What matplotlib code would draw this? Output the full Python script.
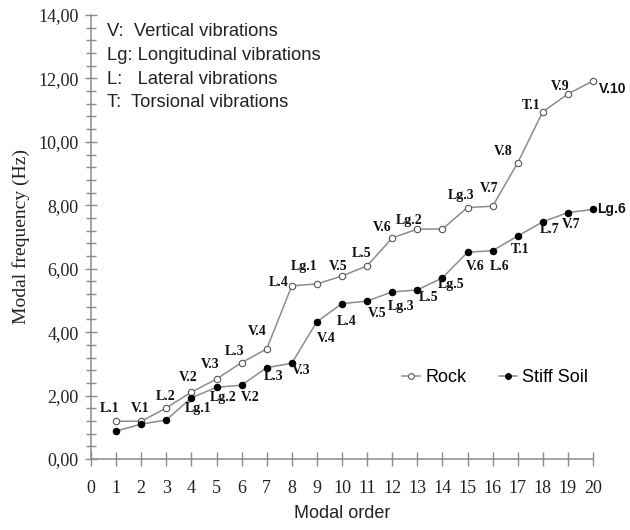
import matplotlib
matplotlib.use("Agg")
import matplotlib.pyplot as plt
from matplotlib.ticker import MultipleLocator, FuncFormatter

# Modal frequencies (Hz) for the first 20 modes
MODES = list(range(1, 21))
ROCK = [1.19, 1.19, 1.61, 2.11, 2.52, 3.04, 3.47, 5.46, 5.52, 5.77,
        6.09, 6.97, 7.25, 7.25, 7.93, 7.97, 9.34, 10.95, 11.51, 11.92]
STIFF_SOIL = [0.88, 1.10, 1.23, 1.93, 2.26, 2.33, 2.88, 3.02, 4.33, 4.90,
              4.98, 5.27, 5.33, 5.71, 6.52, 6.57, 7.03, 7.48, 7.77, 7.87]

ROCK_LABELS = ["L.1", "V.1", "L.2", "V.2", "V.3", "L.3", "V.4", "L.4", "Lg.1", "V.5",
               "L.5", "V.6", "Lg.2", "", "Lg.3", "V.7", "V.8", "T.1", "V.9", "V.10"]
SOIL_LABELS = ["", "", "", "Lg.1", "Lg.2", "V.2", "L.3", "V.3", "V.4", "L.4",
               "V.5", "Lg.3", "L.5", "Lg.5", "V.6", "L.6", "T.1", "L.7", "V.7", "Lg.6"]

# label offsets from each point, in pixels (dx, dy)
ROCK_OFFSETS = [(-6, 13), (-1, 13), (-1, 11), (-3, 15), (-6, 15), (-7, 11), (-9, 17),
                (-13, 3), (-13, 17), (-4, 10), (-5, 12), (-10, 10), (-8, 9), (0, 0),
                (-6, 12), (-3, 18), (-14, 11), (-12, 6), (-8, 7), (20, -8)]
SOIL_OFFSETS = [(0, 0), (0, 0), (0, 0), (7, -11), (7, -10), (9, -12), (7, -9),
                (9, -7), (9, -17), (5, -18), (10, -12), (9, -15), (11, -8), (9, -7),
                (8, -14), (7, -16), (2, -13), (7, -8), (3, -12), (19, 0)]

MODE_TYPES = ["V:  Vertical vibrations",
              "Lg: Longitudinal vibrations",
              "L:   Lateral vibrations",
              "T:  Torsional vibrations"]

LINE_GRAY = "#8c8c8c"
SERIF = "Liberation Serif"
SANS = "Liberation Sans"

fig = plt.figure(figsize=(6.3, 5.3), dpi=100)
ax = fig.add_axes([91 / 630, 71 / 530, 502 / 630, 444 / 530])

ax.plot(MODES, ROCK, color=LINE_GRAY, lw=1.1, marker="o", ms=4.6,
        mfc="white", mec="#555555", mew=0.8, label="Rock", clip_on=False, zorder=3)
ax.plot(MODES, STIFF_SOIL, color=LINE_GRAY, lw=1.1, marker="o", ms=4.6,
        mfc="black", mec="black", mew=0.8, label="Stiff Soil", clip_on=False, zorder=3)

for series, labels, offsets in ((ROCK, ROCK_LABELS, ROCK_OFFSETS),
                                (STIFF_SOIL, SOIL_LABELS, SOIL_OFFSETS)):
    for m, v, lab, off in zip(MODES, series, labels, offsets):
        if not lab:
            continue
        fam = SANS if m == 20 else SERIF
        ax.annotate(lab, (m, v), xytext=off, textcoords="offset pixels",
                    ha="center", va="center", fontsize=10, fontweight="bold",
                    family=fam, color="#111111")

ax.set_xlim(0, 20)
ax.set_ylim(0, 14)
ax.xaxis.set_major_locator(MultipleLocator(1))
ax.yaxis.set_major_locator(MultipleLocator(2))
ax.yaxis.set_minor_locator(MultipleLocator(0.4))
ax.yaxis.set_major_formatter(FuncFormatter(lambda v, p: f"{v:.2f}".replace(".", ",")))

for side in ("top", "right"):
    ax.spines[side].set_visible(False)
for side in ("left", "bottom"):
    ax.spines[side].set_color(LINE_GRAY)
    ax.spines[side].set_linewidth(1.1)

ax.tick_params(axis="both", which="both", direction="inout", color=LINE_GRAY, width=1.0)
ax.tick_params(axis="x", which="major", length=10, pad=10)
ax.tick_params(axis="y", which="major", length=8, pad=5)
ax.tick_params(axis="y", which="minor", length=7)
for lbl in ax.get_xticklabels() + ax.get_yticklabels():
    lbl.set_family(SERIF)
    lbl.set_fontsize(13)
    lbl.set_color("#222222")

ax.set_ylabel("Modal frequency (Hz)", family=SERIF, fontsize=14, color="#222222", labelpad=6)
ax.set_xlabel("Modal order", family=SANS, fontsize=13, color="#222222", labelpad=6)

for i, line in enumerate(MODE_TYPES):
    fig.text(107 / 630, 1 - (32 + 23.5 * i) / 530, line, family=SANS, fontsize=13.2,
             color="#222222", va="center", ha="left")

leg = ax.legend(loc="center", bbox_to_anchor=(495 / 630, 1 - 378 / 530),
                bbox_transform=fig.transFigure, ncol=2, frameon=False,
                prop={"family": SANS, "size": 13}, handlelength=1.0,
                handletextpad=0.3, columnspacing=1.8, markerscale=0.9)

fig.savefig("out.png", dpi=100)
